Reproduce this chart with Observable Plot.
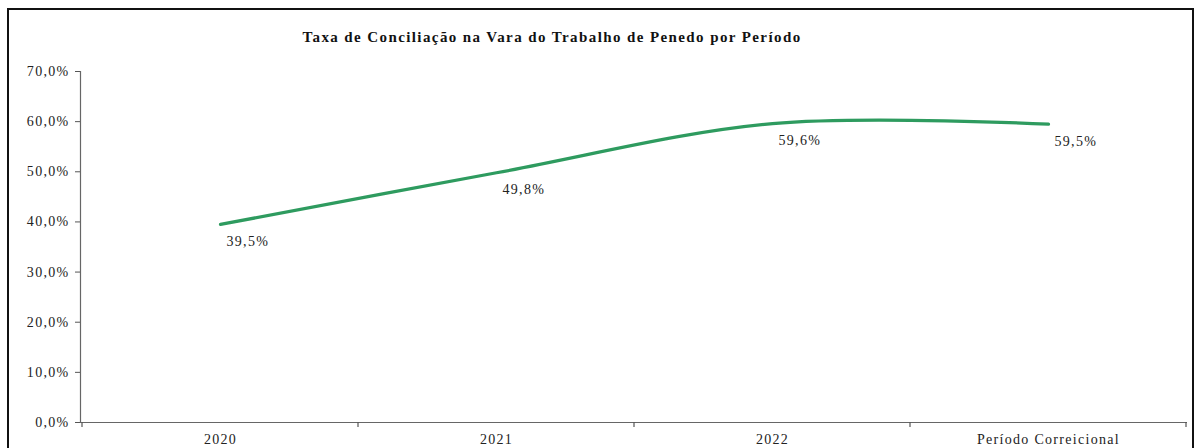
<!DOCTYPE html>
<html>
<head>
<meta charset="utf-8">
<script src="https://cdn.jsdelivr.net/npm/d3@7"></script>
<script src="https://cdn.jsdelivr.net/npm/@observablehq/plot@0.6"></script>
<style>
  html, body { margin: 0; padding: 0; background: #fff; overflow: hidden; }
  #wrap { position: relative; width: 1202px; height: 448px; }
  #frame { position: absolute; left: 7px; top: 8px; width: 1187px; height: 460px; border: 2px solid #111; box-sizing: border-box; pointer-events: none; }
  #chart { position: absolute; left: 0; top: 0; }
  svg, svg text { font-family: "Liberation Serif", "Times New Roman", "DejaVu Serif", serif !important; }
  svg text { letter-spacing: 1.3px; }
  svg text.title { letter-spacing: 1.4px; }
</style>
</head>
<body>
<div id="wrap">
  <div id="chart"></div>
  <div id="frame"></div>
</div>
<script>
const title = "Taxa de Conciliação na Vara do Trabalho de Penedo por Período";
const categories = ["2020", "2021", "2022", "Período Correicional"];
const rates = [39.5, 49.8, 59.6, 59.5];
const yTicks = [0, 10, 20, 30, 40, 50, 60, 70];

const data = categories.map((c, i) => ({period: c, rate: rates[i]}));
const fmt = v => v.toFixed(1).replace(".", ",") + "%";

const plot = Plot.plot({
  width: 1202,
  height: 448,
  marginTop: 71,
  marginBottom: 26,
  marginLeft: 80,
  marginRight: 15,
  style: {fontSize: "14px", color: "#222", background: "transparent"},
  x: {type: "band", domain: categories, paddingInner: 0, paddingOuter: 0, label: null},
  y: {domain: [0, 70], label: null},
  marks: [
    Plot.axisY({ticks: yTicks, tickFormat: fmt, tickSize: 5, tickPadding: 6, fontSize: 14, stroke: "#555"}),
    Plot.axisX({tickSize: 0, tickPadding: 12, fontSize: 14}),
    Plot.frame({anchor: "left", stroke: "#666", strokeWidth: 1.2}),
    Plot.ruleY([0], {stroke: "#666", strokeWidth: 1.2}),
    Plot.line(data, {x: "period", y: "rate", curve: "cardinal", stroke: "#2e9b5f", strokeWidth: 3.2}),
    Plot.text(data, {x: "period", y: "rate", text: d => fmt(d.rate), textAnchor: "start", dx: 6, dy: 17, fontSize: 14, fill: "#222"}),
    Plot.text([title], {frameAnchor: "top", dx: -82, dy: -40, fontSize: 15, fontWeight: "bold", fill: "#111"})
  ]
});
document.getElementById("chart").appendChild(plot);

// Category boundary tick marks (Excel style), placed through the plot's own x scale
const xs = plot.scale("x");
const ys = plot.scale("y");
const svg = d3.select(plot);
svg.selectAll("text").filter(function(){ return d3.select(this).text() === title; }).classed("title", true);
const y0 = ys.apply(0);
const bounds = categories.map(c => xs.apply(c)).concat([xs.apply(categories[categories.length - 1]) + xs.bandwidth]);
svg.append("g").selectAll("line").data(bounds).join("line")
  .attr("x1", d => d).attr("x2", d => d)
  .attr("y1", y0).attr("y2", y0 + 5)
  .attr("stroke", "#555").attr("stroke-width", 1.2);
</script>
</body>
</html>
